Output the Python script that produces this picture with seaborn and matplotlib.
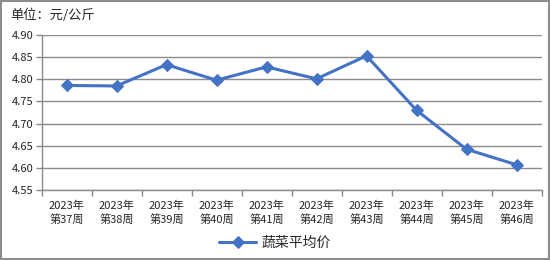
import matplotlib
matplotlib.use("Agg")
import matplotlib.pyplot as plt
import seaborn as sns
import pandas as pd
import numpy as np
from matplotlib.patches import Rectangle

weeks = ["2023年\n第37周", "2023年\n第38周", "2023年\n第39周", "2023年\n第40周", "2023年\n第41周",
         "2023年\n第42周", "2023年\n第43周", "2023年\n第44周", "2023年\n第45周", "2023年\n第46周"]
prices = [4.786, 4.785, 4.833, 4.798, 4.828, 4.801, 4.853, 4.730, 4.642, 4.607]
series_name = "蔬菜平均价"
y_ticks = [4.55, 4.60, 4.65, 4.70, 4.75, 4.80, 4.85, 4.90]

sns.set_theme(style="white")
plt.rcParams['font.family'] = ['Noto Sans CJK SC', 'DejaVu Sans']

df = pd.DataFrame({"x": np.arange(len(weeks)), "price": prices, "s": series_name})

fig = plt.figure(figsize=(5.5, 2.6), dpi=100)
ax = fig.add_axes([41.5/550, 1-190/260, 500/550, 155/260])

color = "#4472C4"
sns.lineplot(data=df, x="x", y="price", hue="s", palette=[color], marker="D",
             markersize=6.5, markeredgecolor=color, linewidth=2.2, ax=ax, legend=True)

ax.set_xlim(-0.5, len(weeks) - 0.5)
ax.set_ylim(4.55, 4.90)
ax.set_yticks(y_ticks)
ax.set_yticklabels([f"{v:.2f}" for v in y_ticks], fontsize=8)
ax.set_xticks(np.arange(len(weeks)))
ax.set_xticklabels(weeks, fontsize=8, linespacing=1.25)
ax.set_xticks(np.arange(len(weeks) + 1) - 0.5, minor=True)
ax.tick_params(axis="x", which="major", length=0, pad=8)
ax.tick_params(axis="x", which="minor", length=4, color="#888888", width=1, direction="out", bottom=True)
ax.tick_params(axis="y", length=4, color="#888888", width=1, direction="out", left=True, pad=2)
ax.set_xlabel("")
ax.set_ylabel("")
ax.grid(axis="y", color="#8c8c8c", linewidth=1)
for side in ["top", "right"]:
    ax.spines[side].set_visible(False)
for side in ["left", "bottom"]:
    ax.spines[side].set_color("#8c8c8c")
    ax.spines[side].set_linewidth(1)

leg = ax.legend(loc="center", bbox_to_anchor=(0.5, 1 - 243/260), bbox_transform=fig.transFigure,
                frameon=False, fontsize=10, handlelength=2.6, handletextpad=0.4)

fig.text(10/550, 1 - 15/260, "单位：元/公斤", fontsize=9.5, va="center", ha="left")

fig.patches.append(Rectangle((0.001, 0.002), 0.997, 0.995, transform=fig.transFigure,
                             fill=False, edgecolor="#8c8c8c", linewidth=1.5))

fig.savefig("out.png", dpi=100)
